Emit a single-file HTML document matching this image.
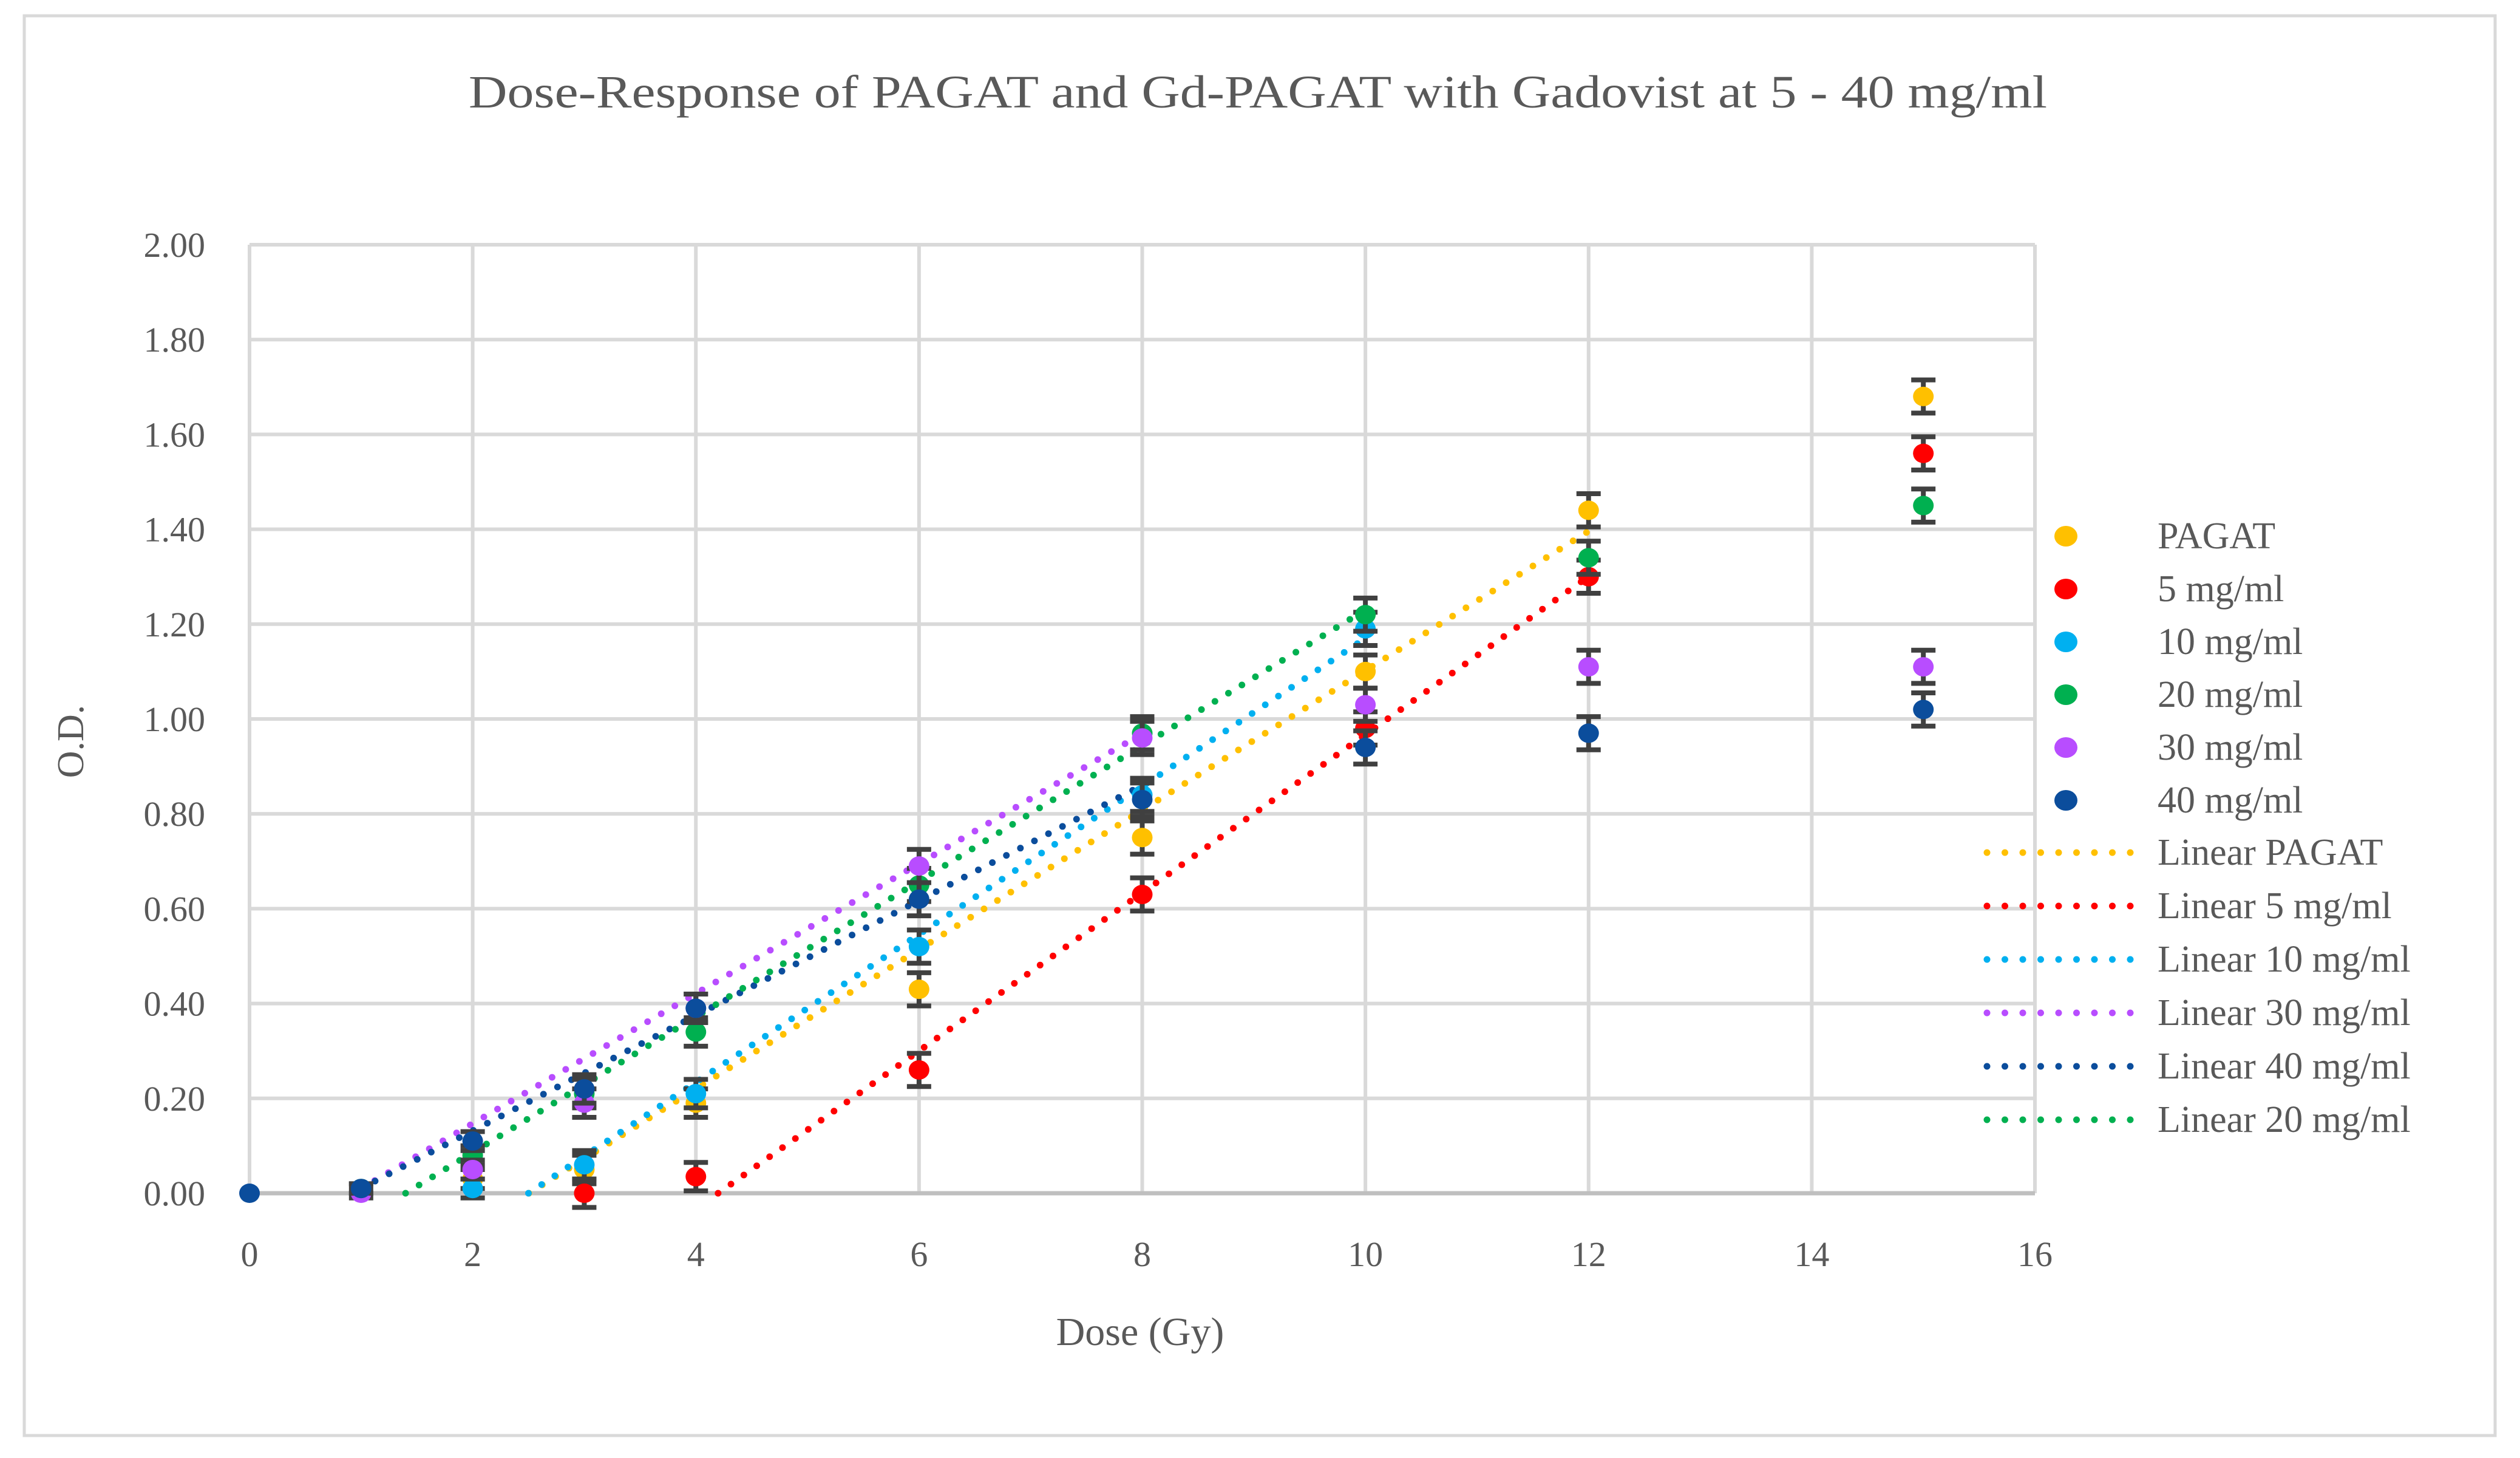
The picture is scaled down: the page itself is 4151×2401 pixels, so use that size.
<!DOCTYPE html>
<html><head><meta charset="utf-8"><style>
html,body{margin:0;padding:0;background:#fff;}
svg{display:block;font-family:"Liberation Serif",serif;}
</style></head><body>
<svg id="chart" width="4151" height="2401" viewBox="0 0 4151 2401" xmlns="http://www.w3.org/2000/svg">
<rect x="40" y="26" width="4070" height="2338" fill="#fff" stroke="#d9d9d9" stroke-width="5"/>
<text x="2072" y="177" font-size="76" fill="#595959" text-anchor="middle" textLength="2600" lengthAdjust="spacingAndGlyphs">Dose-Response of PAGAT and Gd-PAGAT with Gadovist at 5 - 40 mg/ml</text>
<g id="grid"></g>
<g id="axes"></g>
<g id="trends"></g>
<g id="points"></g>
<g id="legend"></g>
<text x="1878" y="2215" font-size="66" fill="#595959" text-anchor="middle">Dose (Gy)</text>
<text transform="translate(137,1221) rotate(-90)" font-size="62" fill="#595959" text-anchor="middle">O.D.</text>
</svg>
<script>
const xTicks = [0,2,4,6,8,10,12,14,16];
const yTicks = [0,0.2,0.4,0.6,0.8,1.0,1.2,1.4,1.6,1.8,2.0];
const yTickLabels = ["0.00","0.20","0.40","0.60","0.80","1.00","1.20","1.40","1.60","1.80","2.00"];
const seriesNames = ["PAGAT","5 mg/ml","10 mg/ml","20 mg/ml","30 mg/ml","40 mg/ml"];
const seriesColors = ["#ffc000","#ff0000","#00b0f0","#00b050","#b84dff","#0b4d9c"];
const doses = [0,1,2,3,4,6,8,10,12,15];
const pagat = [null,null,0.03,0.05,0.19,0.43,0.75,1.10,1.44,1.68];
const mg5   = [null,null,null,0.00,0.035,0.26,0.63,0.98,1.30,1.56];
const mg10  = [null,null,0.01,0.06,0.21,0.52,0.84,1.19,null,null];
const mg20  = [null,0.01,0.08,0.21,0.34,0.65,0.97,1.22,1.34,1.45];
const mg30  = [null,0.00,0.05,0.19,0.39,0.69,0.96,1.03,1.11,1.11];
const mg40  = [0.00,0.01,0.11,0.22,0.39,0.62,0.83,0.94,0.97,1.02];
const errBar = [0,0.01,0.02,0.03,0.03,0.035,0.035,0.035,0.035,0.035];
const trendNames = ["Linear PAGAT","Linear 5 mg/ml","Linear 10 mg/ml","Linear 30 mg/ml","Linear 40 mg/ml","Linear 20 mg/ml"];
const trendColors = ["#ffc000","#ff0000","#00b0f0","#b84dff","#0b4d9c","#00b050"];
const trendSlope = [0.147,0.1667,0.156,0.137,0.1214,0.143];
const trendIntercept = [-0.368,-0.70,-0.39,-0.127,-0.111,-0.20];
const trendXStart = [1,1,1,1,1,1];
const trendXEnd = [12,12,10,8,8,10];

const NS="http://www.w3.org/2000/svg";
const X0=411,X1=3352,Y0=1965,Y1=403;
const xs=v=>X0+(v-0)/(16-0)*(X1-X0);
const ys=v=>Y0-(v-0)/(2-0)*(Y0-Y1);
function mk(tag,attrs,parent){const e=document.createElementNS(NS,tag);for(const k in attrs)e.setAttribute(k,attrs[k]);parent.appendChild(e);return e;}
const grid=document.getElementById('grid'),axes=document.getElementById('axes'),trends=document.getElementById('trends'),pts=document.getElementById('points'),leg=document.getElementById('legend');
yTicks.forEach((t,i)=>{
  const l=mk('line',{x1:X0,x2:X1,y1:ys(t),y2:ys(t),stroke:'#d9d9d9','stroke-width':6},grid);
  
  
  const tx=mk('text',{x:338,y:ys(t)+20,'font-size':58,fill:'#595959','text-anchor':'end'},axes);
  
  
  tx.textContent=yTickLabels[i];
});
xTicks.forEach(t=>{
  const l=mk('line',{x1:xs(t),x2:xs(t),y1:Y1,y2:Y0,stroke:'#d9d9d9','stroke-width':6},grid);
  
  
  const tx=mk('text',{x:xs(t),y:2085,'font-size':58,fill:'#595959','text-anchor':'middle'},axes);
  
  
  tx.textContent=String(t);
});
const ax=mk('line',{x1:X0,x2:X1,y1:Y0,y2:Y0,stroke:'#bfbfbf','stroke-width':7},axes);


trendSlope.forEach((m,i)=>{
  const b=trendIntercept[i];
  let xa=Math.max(trendXStart[i],-b/m), xb=trendXEnd[i];
  const l=mk('line',{x1:xs(xa),y1:ys(m*xa+b),x2:xs(xb),y2:ys(m*xb+b),stroke:trendColors[i],'stroke-width':11,'stroke-linecap':'round','stroke-dasharray':'0 26'},trends);
  
  
});
const allSeries=[pagat,mg5,mg10,mg20,mg30,mg40];
allSeries.forEach((s,si)=>{
  s.forEach((v,di)=>{
    if(v===null)return;
    const d=doses[di],e=errBar[di];
    if(e>0){
      const g=mk('g',{stroke:'#404040','stroke-width':8},pts);
      
      
      mk('line',{x1:xs(d),x2:xs(d),y1:ys(v+e),y2:ys(v-e)},g);
      mk('line',{x1:xs(d)-20,x2:xs(d)+20,y1:ys(v+e),y2:ys(v+e)},g);
      mk('line',{x1:xs(d)-20,x2:xs(d)+20,y1:ys(v-e),y2:ys(v-e)},g);
    }
    const c=mk('ellipse',{cx:xs(d),cy:ys(v),rx:17,ry:16,fill:seriesColors[si]},pts);
    
    
  });
});
seriesNames.forEach((n,i)=>{
  const y=883+i*87;
  const c=mk('ellipse',{cx:3403,cy:y,rx:19,ry:17,fill:seriesColors[i]},leg);
  
  
  const t=mk('text',{x:3554,y:y+20,'font-size':62,fill:'#595959'},leg);
  
  
  t.textContent=n;
});
trendNames.forEach((n,i)=>{
  const y=1404+i*88;
  const l=mk('line',{x1:3273,x2:3518,y1:y,y2:y,stroke:trendColors[i],'stroke-width':11,'stroke-linecap':'round','stroke-dasharray':'0 29.5'},leg);
  
  
  const t=mk('text',{x:3554,y:y+20,'font-size':62,fill:'#595959'},leg);
  
  
  t.textContent=n;
});
</script>
</body></html>
